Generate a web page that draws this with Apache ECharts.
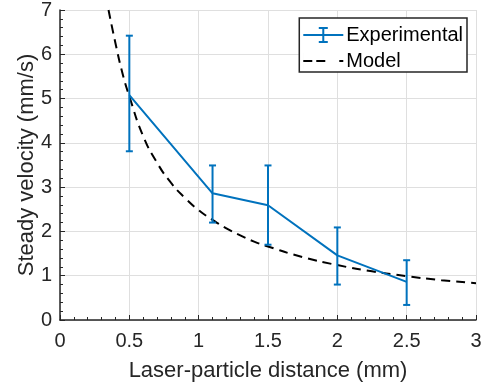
<!DOCTYPE html>
<html>
<head>
<meta charset="utf-8">
<script src="https://cdn.jsdelivr.net/npm/echarts@6/dist/echarts.min.js"></script>
<style>
  html, body { margin: 0; padding: 0; background: #fff; }
  #chart { width: 489px; height: 388px; }
</style>
</head>
<body>
<div id="chart"></div>
<script>
// experimental points (distance in mm, velocity in mm/s)
const expX = [0.5, 1.1, 1.5, 2.0, 2.5];
const expY = [5.08, 2.86, 2.59, 1.46, 0.86];
const errLow = [3.81, 2.20, 1.70, 0.80, 0.34];
const errHigh = [6.42, 3.49, 3.49, 2.09, 1.35];

// model curve
const modelX = [0.35, 0.4, 0.45, 0.5, 0.6, 0.7, 0.8, 0.9, 1.0, 1.1, 1.2, 1.3, 1.4, 1.5, 1.75, 2.0, 2.25, 2.5, 2.75, 3.0];
const modelY = [7.0, 6.25, 5.58, 5.05, 4.15, 3.55, 3.1, 2.76, 2.48, 2.26, 2.07, 1.91, 1.77, 1.66, 1.42, 1.24, 1.1, 0.99, 0.9, 0.83];

const blue = '#0072BD';
const ink = '#262626';
const font = "'Liberation Sans', Arial, Helvetica, sans-serif";

const chart = echarts.init(document.getElementById('chart'));

const expData = expX.map((x, i) => [x, expY[i]]);
const errData = expX.map((x, i) => [x, errLow[i], errHigh[i]]);
const modelData = modelX.map((x, i) => [x, modelY[i]]);

function renderErr(params, api) {
  const x = api.value(0);
  const lo = api.coord([x, api.value(1)]);
  const hi = api.coord([x, api.value(2)]);
  const cap = 3.5;
  const st = { stroke: blue, lineWidth: 2 };
  return {
    type: 'group',
    children: [
      { type: 'line', shape: { x1: lo[0], y1: lo[1], x2: hi[0], y2: hi[1] }, style: st },
      { type: 'line', shape: { x1: lo[0] - cap, y1: lo[1], x2: lo[0] + cap, y2: lo[1] }, style: st },
      { type: 'line', shape: { x1: hi[0] - cap, y1: hi[1], x2: hi[0] + cap, y2: hi[1] }, style: st }
    ]
  };
}

chart.setOption({
  animation: false,
  textStyle: { fontFamily: font },
  grid: { left: 60, right: 13, top: 9, bottom: 68 },
  legend: {
    right: 22, top: 18,
    orient: 'vertical',
    backgroundColor: '#fff',
    borderColor: ink,
    borderWidth: 1.5,
    borderRadius: 0,
    padding: [7, 4, 1, 4],
    itemWidth: 40, itemHeight: 16, itemGap: 6,
    textStyle: { fontSize: 20, color: '#000', fontFamily: font, padding: [0, 0, 0, -2] },
    data: [
      { name: 'Experimental', icon: 'path://M0,7h40v2H0z M19,0h2v16h-2z M15.5,0h9v2h-9z M15.5,14h9v2h-9z' },
      { name: 'Model', icon: 'path://M0,7h9v2H0z M13,7h9v2h-9z M36,7h4v2h-4z M0,0h0.01v16H0z' }
    ]
  },
  xAxis: {
    type: 'value', min: 0, max: 3, interval: 0.5,
    name: 'Laser-particle distance (mm)',
    nameLocation: 'middle', nameGap: 40,
    nameTextStyle: { fontSize: 22, color: ink, fontFamily: font },
    axisLine: { onZero: false, lineStyle: { color: ink, width: 1.5 } },
    axisTick: { inside: true, length: 5, lineStyle: { color: ink } },
    minorTick: { show: true, splitNumber: 5, length: 3, lineStyle: { color: ink } },
    axisLabel: { fontSize: 20, color: ink, margin: 11, fontFamily: font },
    splitLine: { show: true, lineStyle: { color: '#dfdfdf', width: 1 } }
  },
  yAxis: {
    type: 'value', min: 0, max: 7, interval: 1,
    name: 'Steady velocity (mm/s)',
    nameLocation: 'middle', nameGap: 22,
    nameMoveOverlap: false,
    nameTextStyle: { fontSize: 22, color: ink, fontFamily: font },
    axisLine: { show: true, lineStyle: { color: ink, width: 1.5 } },
    axisTick: { show: true, inside: true, length: 5, lineStyle: { color: ink } },
    minorTick: { show: true, splitNumber: 5, length: 3, lineStyle: { color: ink } },
    axisLabel: { fontSize: 20, color: ink, margin: 8, fontFamily: font },
    splitLine: { show: true, lineStyle: { color: '#dfdfdf', width: 1 } }
  },
  series: [
    {
      name: 'Experimental',
      type: 'line',
      data: expData,
      symbol: 'none',
      itemStyle: { color: blue },
      lineStyle: { color: blue, width: 2 },
      z: 3
    },
    {
      name: 'Experimental',
      type: 'custom',
      data: errData,
      renderItem: renderErr,
      itemStyle: { color: blue },
      z: 4
    },
    {
      name: 'Model',
      type: 'line',
      data: modelData,
      symbol: 'none',
      smooth: true,
      itemStyle: { color: '#000' },
      lineStyle: { color: '#000', width: 2, type: [9, 6] },
      z: 2
    }
  ]
});
</script>
</body>
</html>
